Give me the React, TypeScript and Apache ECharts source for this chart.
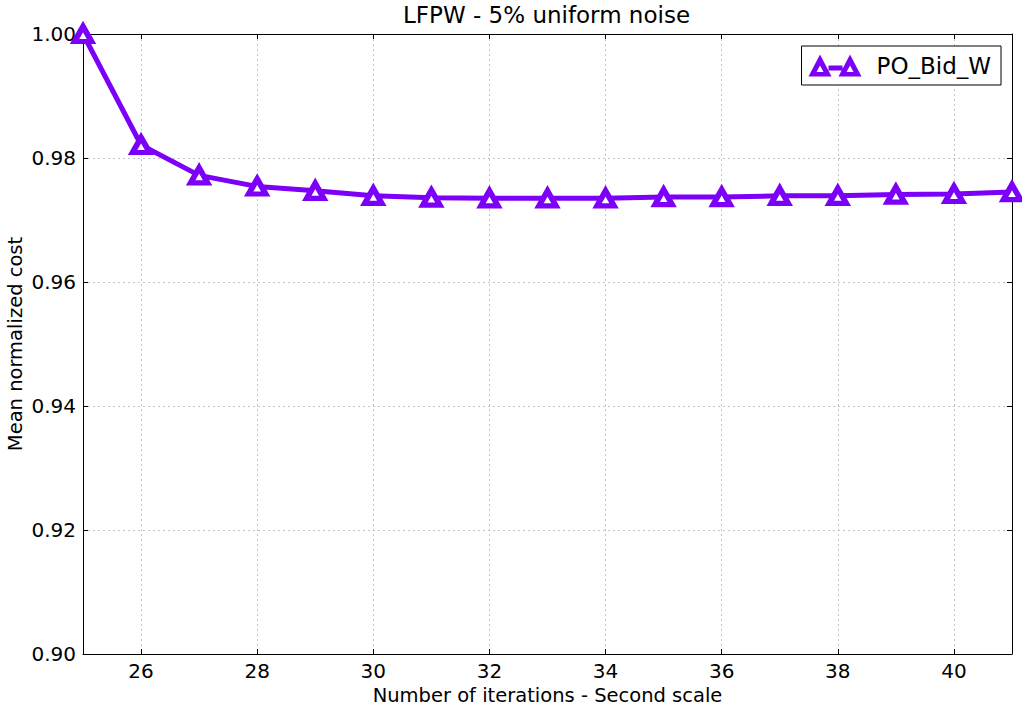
import React, { useEffect, useRef } from "react";
import * as echarts from "echarts";

const iterations = ["25", "26", "27", "28", "29", "30", "31", "32", "33", "34", "35", "36", "37", "38", "39", "40", "41"];
const poBidW = [1.0, 0.9821, 0.9772, 0.9754, 0.9747, 0.9739, 0.9736, 0.9735, 0.9735, 0.9735, 0.9737, 0.9737, 0.9739, 0.9739, 0.9741, 0.9742, 0.9745];
const seriesName = "PO_Bid_W";
const titleText = "LFPW - 5% uniform noise";
const xName = "Number of iterations - Second scale";
const yName = "Mean normalized cost";

const PURPLE = "#7c00f8";
const FONT = "DejaVu Sans";

const legendIcon =
  "path://M0 22 L11.5 0 L23 22 Z M8 17.5 L15 17.5 L11.5 11 Z " +
  "M30 22 L41.5 0 L53 22 Z M38 17.5 L45 17.5 L41.5 11 Z " +
  "M20 11 L34 11 L34 16 L20 16 Z M62.9 22 L63 22 L63 21.9 Z";

export default function App() {
  const ref = useRef<HTMLDivElement>(null);
  useEffect(() => {
    document.body.style.margin = "0";
    if (!ref.current) return;
    const chart = echarts.init(ref.current, undefined, { renderer: "svg" });
    const evenIdx = (i: number) => i % 2 === 1;
    chart.setOption({
      animation: false,
      backgroundColor: "#fff",
      textStyle: { fontFamily: FONT },
      title: {
        text: titleText,
        left: 403,
        top: 3,
        padding: 0,
        textStyle: { fontFamily: FONT, fontSize: 23, fontWeight: "normal", color: "#000" },
      },
      legend: {
        data: [{ name: seriesName, icon: legendIcon }],
        right: 21,
        top: 46,
        orient: "horizontal",
        borderColor: "#000",
        borderWidth: 1,
        borderRadius: 0,
        padding: [8, 10, 8, 7],
        itemWidth: 63,
        itemHeight: 22,
        itemStyle: { color: PURPLE, borderWidth: 0 },
        textStyle: { fontFamily: FONT, fontSize: 23, color: "#000" },
        backgroundColor: "#fff",
      },
      grid: { left: 83, right: 10, top: 34, bottom: 61, containLabel: false, outerBoundsMode: "none" },
      xAxis: [
        {
          type: "category",
          data: iterations,
          boundaryGap: false,
          name: xName,
          nameLocation: "middle",
          nameGap: 28,
          nameTextStyle: { fontFamily: FONT, fontSize: 19.5, color: "#000" },
          axisLine: { show: true, lineStyle: { color: "#000", width: 1 } },
          axisTick: { show: true, inside: true, length: 5, interval: evenIdx, lineStyle: { color: "#000" } },
          axisLabel: { interval: evenIdx, margin: 7, fontFamily: FONT, fontSize: 20, color: "#000" },
          splitLine: { show: true, interval: evenIdx, lineStyle: { color: "#c4c4c4", type: [2, 3], width: 1 } },
        },
        {
          type: "category",
          data: iterations,
          boundaryGap: false,
          position: "top",
          axisLine: { show: true, lineStyle: { color: "#000", width: 1 } },
          axisTick: { show: true, inside: true, length: 5, interval: evenIdx, lineStyle: { color: "#000" } },
          axisLabel: { show: false },
          splitLine: { show: false },
        },
      ],
      yAxis: [
        {
          type: "value",
          min: 0.9,
          max: 1.0,
          interval: 0.02,
          name: yName,
          nameLocation: "middle",
          nameGap: 58,
          nameMoveOverlap: false,
          nameTextStyle: { fontFamily: FONT, fontSize: 19.5, color: "#000" },
          axisLine: { show: true, lineStyle: { color: "#000", width: 1 } },
          axisTick: { show: true, inside: true, length: 5, lineStyle: { color: "#000" } },
          axisLabel: {
            margin: 7,
            fontFamily: FONT,
            fontSize: 20,
            color: "#000",
            formatter: (v: number) => v.toFixed(2),
          },
          splitLine: { show: true, lineStyle: { color: "#c4c4c4", type: [2, 3], width: 1 } },
        },
        {
          type: "value",
          min: 0.9,
          max: 1.0,
          interval: 0.02,
          position: "right",
          axisLine: { show: true, lineStyle: { color: "#000", width: 1 } },
          axisTick: { show: true, inside: true, length: 5, lineStyle: { color: "#000" } },
          axisLabel: { show: false },
          splitLine: { show: false },
        },
      ],
      series: [
        {
          name: seriesName,
          type: "line",
          data: poBidW,
          xAxisIndex: 0,
          yAxisIndex: 0,
          symbol: "triangle",
          symbolSize: [17, 15],
          showAllSymbol: true,
          clip: true,
          lineStyle: { color: PURPLE, width: 5 },
          itemStyle: { color: "#fff", borderColor: PURPLE, borderWidth: 5.5 },
          z: 3,
        },
      ],
    });
    return () => chart.dispose();
  }, []);
  return <div ref={ref} style={{ position: "fixed", left: 0, top: 0, width: 1022, height: 715 }} />;
}
